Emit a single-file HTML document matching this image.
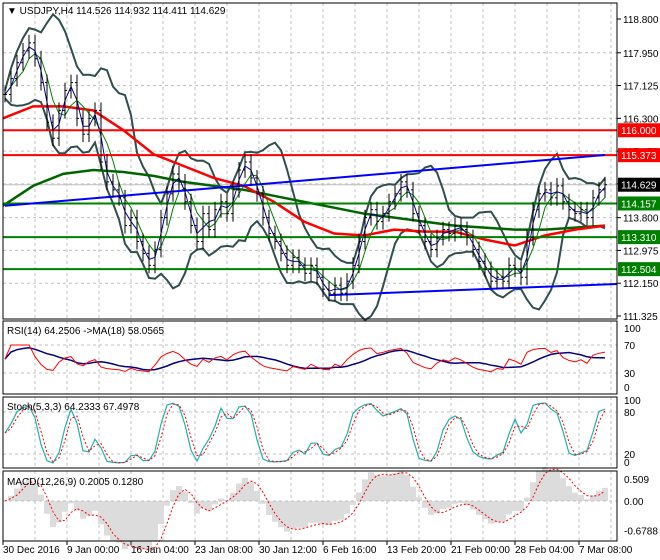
<!DOCTYPE html>
<html><head><meta charset="utf-8">
<style>
html,body{margin:0;padding:0;background:#fff;}
svg{display:block;font-family:"Liberation Sans",sans-serif;}
</style></head>
<body>
<svg id="chart" width="660" height="560" xmlns="http://www.w3.org/2000/svg">
<rect x="0" y="0" width="660" height="560" fill="#fff"/>
<g id="grid"></g>
<g id="marks"></g>
<g id="axes"></g>
</svg>
<script>
// ---- data ----
const closes = [116.9,117.3,117.7,118.0,118.2,117.8,117.2,116.2,115.8,116.5,117.0,117.2,116.3,115.9,116.3,116.5,115.2,114.7,114.5,114.3,113.6,113.8,113.2,112.9,112.6,113.0,113.8,114.4,114.9,114.7,114.2,113.6,113.2,113.9,113.5,114.0,114.2,113.9,114.5,115.0,115.2,114.8,114.4,113.8,113.4,113.2,112.9,112.6,112.8,112.6,112.4,112.6,112.3,112.0,111.9,112.1,111.9,112.2,112.6,113.2,113.8,114.0,113.7,113.9,114.2,114.4,114.7,114.5,113.9,113.6,113.2,113.0,113.3,113.5,113.4,113.6,113.5,113.3,113.0,112.7,112.5,112.2,112.3,112.2,112.6,112.5,112.3,113.3,114.0,114.4,114.5,114.3,114.6,114.2,114.0,113.9,114.0,113.8,114.3,114.5,114.629];
const redMA = [116.3,116.6,116.6,116.5,116.0,115.4,115.1,114.8,114.6,114.2,113.7,113.4,113.35,113.5,113.45,113.45,113.25,113.1,113.35,113.5,113.6];
const greenMA = [114.1,114.6,114.9,115.0,114.95,114.85,114.7,114.6,114.5,114.35,114.2,114.05,113.9,113.8,113.7,113.6,113.55,113.5,113.5,113.55,113.6];
const priceTicks = ["118.800","117.950","117.125","116.300","115.475","114.650","113.800","112.975","112.150","111.325"];
const tickVals = [118.8,117.95,117.125,116.3,115.475,114.65,113.8,112.975,112.15,111.325];
const redLevels = [116.000,115.373];
const greenLevels = [114.157,113.310,112.504];
const lastPrice = 114.629;
const upperTrend = [[0,114.1],[98,115.35]];
const lowerTrend = [[54,111.85],[101,112.12]];
const dateLabels = ["30 Dec 2016","9 Jan 00:00","16 Jan 04:00","23 Jan 08:00","30 Jan 12:00","6 Feb 16:00","13 Feb 20:00","21 Feb 00:00","28 Feb 04:00","7 Mar 08:00"];

// ---- scales ----
const N = closes.length;
const xb = i => 5 + i*6;
const yP = p => 19 + (118.8 - p)*39.73;
const yRSI = v => 394 - v*0.70;
const ySt = v => 468 - v*0.70;
const yM = v => 501 - v*43.2;
const NS='http://www.w3.org/2000/svg';
const grid=document.getElementById('grid'), marks=document.getElementById('marks'), axes=document.getElementById('axes');
function mk(tag, attrs, parent){const e=document.createElementNS(NS,tag);for(const k in attrs)e.setAttribute(k,attrs[k]);parent.appendChild(e);return e;}
function poly(pts){return pts.map(p=>p[0].toFixed(1)+','+p[1].toFixed(1)).join(' ');}

const panes=[[3,3,319],[3,321,394],[3,397,468],[3,471,541]];
const paneNames=['price-pane','rsi-pane','stoch-pane','macd-pane'];
panes.forEach((p,i)=>{
  const r=mk('rect',{x:3,y:p[1],width:614,height:p[2]-p[1],fill:'none',stroke:'#000','stroke-width':1},axes);
  
  
});
for(let x=35;x<617;x+=32){
  panes.forEach(p=>mk('line',{x1:x,y1:p[1],x2:x,y2:p[2],stroke:'#c0c0c0','stroke-dasharray':'3,3'},grid));
}
tickVals.forEach((v,i)=>{
  const y=yP(v);
  if(i>0&&i<tickVals.length-1) mk('line',{x1:3,y1:y,x2:617,y2:y,stroke:'#c0c0c0','stroke-dasharray':'3,3'},grid);
  mk('line',{x1:617,y1:y,x2:621,y2:y,stroke:'#000'},axes);
  const t=mk('text',{x:623,y:y+4,'font-size':10,fill:'#000'},axes);
  t.textContent=priceTicks[i];
  
  
});
[[yRSI(70)],[yRSI(30)],[ySt(80)],[ySt(20)],[yM(0)]].forEach(a=>mk('line',{x1:3,y1:a[0],x2:617,y2:a[0],stroke:'#c0c0c0','stroke-dasharray':'3,3'},grid));

function sma(arr,n){return arr.map((v,i)=>{const s=arr.slice(Math.max(0,i-n+1),i+1);return s.reduce((a,b)=>a+b,0)/s.length;});}
function ema(arr,n){const k=2/(n+1);let out=[];arr.forEach((v,i)=>out.push(i?v*k+out[i-1]*(1-k):v));return out;}
function std(arr,n,m){return arr.map((v,i)=>{const s=arr.slice(Math.max(0,i-n+1),i+1);return Math.sqrt(s.reduce((a,b)=>a+(b-m[i])**2,0)/s.length);});}
const mid=sma(closes,7), sd=std(closes,7,mid);
const up=mid.map((m,i)=>m+1.8*sd[i]+0.1), lo=mid.map((m,i)=>m-1.8*sd[i]-0.1);
function knots(arr){return arr.map((v,i)=>[3+i*(602/(arr.length-1)),yP(v)]);}

let e;
e=mk('polyline',{points:poly(up.map((v,i)=>[xb(i),yP(v)])),fill:'none',stroke:'#2f4f4f','stroke-width':2},marks);

e=mk('polyline',{points:poly(lo.map((v,i)=>[xb(i),yP(v)])),fill:'none',stroke:'#2f4f4f','stroke-width':2},marks);

e=mk('polyline',{points:poly(knots(greenMA)),fill:'none',stroke:'#006400','stroke-width':2.5},marks);

e=mk('polyline',{points:poly(knots(redMA)),fill:'none',stroke:'#ff0000','stroke-width':2.5},marks);

e=mk('polyline',{points:poly(sma(closes,4).map((v,i)=>[xb(i),yP(v)])),fill:'none',stroke:'#008000','stroke-width':1},marks);

e=mk('polyline',{points:poly(sma(closes,2).map((v,i)=>[xb(i),yP(v)])),fill:'none',stroke:'#0000a0','stroke-width':1},marks);


redLevels.forEach(v=>{e=mk('line',{x1:3,y1:yP(v),x2:617,y2:yP(v),stroke:'#ff0000','stroke-width':2},marks);
});
greenLevels.forEach(v=>{e=mk('line',{x1:3,y1:yP(v),x2:617,y2:yP(v),stroke:'#008000','stroke-width':2},marks);
});
mk('line',{x1:3,y1:yP(lastPrice),x2:617,y2:yP(lastPrice),stroke:'#c0c0c0'},grid);
[upperTrend,lowerTrend].forEach((t,k)=>{
  const x1=xb(t[0][0]),x2=xb(t[1][0]);
  e=mk('line',{x1:Math.max(3,x1),y1:yP(t[0][1]),x2:Math.min(617,x2+12),y2:yP(t[1][1]+(t[1][1]-t[0][1])*12/(x2-x1)),stroke:'#0000ff','stroke-width':2},marks);
  
});

closes.forEach((c,i)=>{
  const o=i?closes[i-1]:c, x=xb(i);
  const h=Math.max(o,c)+0.2, l=Math.min(o,c)-0.2;
  const g=mk('g',{stroke:'#000','stroke-width':1},marks);
  
  
  mk('line',{x1:x,y1:yP(h),x2:x,y2:yP(l)},g);
  mk('line',{x1:x-2,y1:yP(o),x2:x,y2:yP(o)},g);
  mk('line',{x1:x,y1:yP(c),x2:x+2,y2:yP(c)},g);
});

function tag(v,bg,fg,name){
  const y=yP(v);
  e=mk('rect',{x:618,y:y-7,width:42,height:14,fill:bg},axes);
  
  const t=mk('text',{x:621,y:y+4,'font-size':10,fill:fg},axes);t.textContent=v.toFixed(3);
}
redLevels.forEach(v=>tag(v,'#ff0000','#fff','resistance-price-tag'));
greenLevels.forEach(v=>tag(v,'#008000','#fff','support-price-tag'));
tag(lastPrice,'#000','#fff','last-price-tag');

// RSI
const rsi=[];let ag=0,al=0;
closes.forEach((c,i)=>{if(!i){rsi.push(50);return;}const d=c-closes[i-1];ag=(ag*3+Math.max(d,0))/4;al=(al*3+Math.max(-d,0))/4;rsi.push(al+ag?28+42*ag/(ag+al):50);});
const rsiMA=sma(rsi,8);
e=mk('polyline',{points:poly(rsiMA.map((v,i)=>[xb(i),yRSI(v)])),fill:'none',stroke:'#000080','stroke-width':1.5},marks);

e=mk('polyline',{points:poly(rsi.map((v,i)=>[xb(i),yRSI(v)])),fill:'none',stroke:'#ff0000','stroke-width':1},marks);


// Stochastic
const K=closes.map((c,i)=>{const s=closes.slice(Math.max(0,i-4),i+1);const hh=Math.max(...s)+0.18,ll=Math.min(...s)-0.18;return 100*(c-ll)/(hh-ll);});
const Ks=sma(K,2), D=sma(Ks,2);
e=mk('polyline',{points:poly(Ks.map((v,i)=>[xb(i),ySt(v)])),fill:'none',stroke:'#20b2aa','stroke-width':1.2},marks);

e=mk('polyline',{points:poly(D.map((v,i)=>[xb(i),ySt(v)])),fill:'none',stroke:'#ff0000','stroke-width':1,'stroke-dasharray':'2,2'},marks);


// MACD
const e1=ema(closes,4),e2=ema(closes,9);
const macd=e1.map((v,i)=>(v-e2[i])*1.5);
const sig=sma(macd,3);
macd.forEach((v,i)=>{
  for(let k=0;k<3;k++){e=mk('line',{x1:xb(i)+k*2-2,y1:yM(0),x2:xb(i)+k*2-2,y2:yM(v),stroke:'#b8b8b8'},marks);}
  
});
e=mk('polyline',{points:poly(sig.map((v,i)=>[xb(i),yM(v)])),fill:'none',stroke:'#ff0000','stroke-width':1,'stroke-dasharray':'2,2'},marks);


[["100",yRSI(100)+8],["70",yRSI(70)+4],["30",yRSI(30)+4],["0",yRSI(0)-3],["100",ySt(100)+6],["80",ySt(80)+4],["20",ySt(20)+4],["0",ySt(0)-2],["0.509",yM(0.509)+4],["0.00",yM(0)+4],["-0.6788",yM(-0.6788)+4]].forEach(a=>{
  const t=mk('text',{x:624,y:a[1],'font-size':10,fill:'#000'},axes);t.textContent=a[0];
  
});
[["▼ USDJPY,H4  114.526 114.932 114.411 114.629",7,14,'chart-title'],["RSI(14) 64.2506  ->MA(18) 58.0565",7,334,'rsi-title'],["Stoch(5,3,3) 64.2333 67.4978",7,410,'stoch-title'],["MACD(12,26,9) 0.2005 0.1280",7,485,'macd-title']].forEach(a=>{
  const t=mk('text',{x:a[1],y:a[2],'font-size':10,fill:'#000'},axes);t.textContent=a[0];
  
});
dateLabels.forEach((d,i)=>{
  const x=3+i*64;
  mk('line',{x1:x,y1:541,x2:x,y2:545,stroke:'#000'},axes);
  const t=mk('text',{x:x,y:553,'font-size':10,fill:'#000'},axes);t.textContent=d;
  
});
</script>
</body></html>
